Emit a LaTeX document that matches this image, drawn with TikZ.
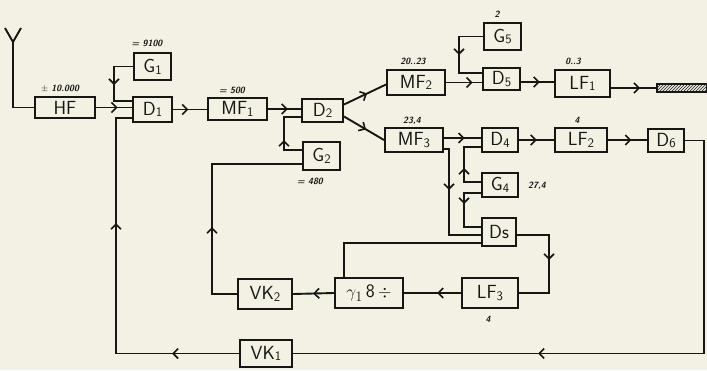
\documentclass[tikz,border=0pt]{standalone}
\usetikzlibrary{arrows.meta,decorations.markings,patterns,calc}
\definecolor{paper}{RGB}{242,241,228}
\definecolor{ink}{RGB}{22,22,20}
\newcommand\ix[1]{\raisebox{-1.8pt}{\fontsize{13}{13}\selectfont #1}}
\begin{document}
\begin{tikzpicture}[x=1pt,y=-1pt,
  blk/.style={draw=ink,line width=2pt,inner sep=0pt,font=\sffamily\fontsize{19}{19}\selectfont,text=ink},
  ann/.style={font=\sffamily\itshape\bfseries\fontsize{9}{9}\selectfont,text=ink,inner sep=0pt},
  wire/.style={draw=ink,line width=1.9pt},
  arrat/.style={postaction={decorate,decoration={markings,mark=at position #1 with {\arrow[ink,line width=1.6pt]{Straight Barb[length=5pt,width=10pt]}}}}}]
\fill[paper] (0,0) rectangle (707,370);
\useasboundingbox (0,0) rectangle (707,370);
% boxes
\node[blk,minimum width=60pt,minimum height=21pt] (hf) at (65,107.5) {HF};
\node[blk,minimum width=39pt,minimum height=25pt] (d1) at (152.5,109.5) {D\ix{1}};
\node[blk,minimum width=37pt,minimum height=27pt] (g1) at (152.5,66.5) {G\ix{1}};
\node[blk,minimum width=59pt,minimum height=22pt] (mf1) at (237.5,109) {MF\ix{1}};
\node[blk,minimum width=41pt,minimum height=23pt] (d2) at (322.5,110.5) {D\ix{2}};
\node[blk,minimum width=37pt,minimum height=28pt] (g2) at (321.5,156) {G\ix{2}};
\node[blk,minimum width=58pt,minimum height=25pt] (mf2) at (416,82.5) {MF\ix{2}};
\node[blk,minimum width=58pt,minimum height=24pt] (mf3) at (414,140) {MF\ix{3}};
\node[blk,minimum width=37pt,minimum height=27pt] (g5) at (502.5,36.5) {G\ix{5}};
\node[blk,minimum width=37pt,minimum height=22pt] (d5) at (501.5,79) {D\ix{5}};
\node[blk,minimum width=55pt,minimum height=27pt] (lf1) at (582.5,83.5) {LF\ix{1}};
\node[draw=ink,line width=1.2pt,pattern=north east lines,pattern color=ink,minimum width=50pt,minimum height=8pt,inner sep=0pt] (bar) at (682,88) {};
\node[blk,minimum width=36pt,minimum height=24pt] (d4) at (500,140) {D\ix{4}};
\node[blk,minimum width=52pt,minimum height=24pt] (lf2) at (581,140) {LF\ix{2}};
\node[blk,minimum width=36pt,minimum height=23pt] (d6) at (666,140.5) {D\ix{6}};
\node[blk,minimum width=36pt,minimum height=24pt] (g4) at (500,185) {G\ix{4}};
\node[blk,minimum width=34pt,minimum height=28pt] (ds) at (499,232) {Ds};
\node[blk,minimum width=56pt,minimum height=30pt] (lf3) at (490,293) {LF\ix{3}};
\node[blk,minimum width=68pt,minimum height=30pt] (yb) at (369,293) {$\gamma_1$\,8\,$\div$};
\node[blk,minimum width=54pt,minimum height=30pt] (vk2) at (265,294) {VK\ix{2}};
\node[blk,minimum width=52pt,minimum height=27pt] (vk1) at (266,353.5) {VK\ix{1}};
% annotations
\node[ann] (a1) at (147,43) {= 9100};
\node[ann] (a2) at (60,89) {$\pm$ 10.000};
\node[ann] (a3) at (232,90) {= 500};
\node[ann] (a4) at (413,61) {20..23};
\node[ann] (a5) at (412,121) {23,4};
\node[ann] (a6) at (497,14) {2};
\node[ann] (a7) at (573,61) {0..3};
\node[ann] (a8) at (310,181) {= 480};
\node[ann] (a9) at (577,120) {4};
\node[ann] (a10) at (537,186) {27,4};
\node[ann] (a11) at (488,319) {4};
% antenna
\coordinate (ant) at (13,42);
\coordinate (antl) at (5,28);
\coordinate (antr) at (21,28);
\draw[wire] (antl) -- (ant) -- (antr);
\draw[wire] (ant) |- (hf.west);
% port coordinates
\coordinate (d5o) at ($(d5.east)+(0,3)$);
\coordinate (lf1i) at (d5o -| lf1.west);
\coordinate (mf3o) at ($(mf3.east)+(0,-2)$);
\coordinate (d4i) at (mf3o -| d4.west);
% connectors
\draw[wire,arrat=0.6] (hf.east) -- (hf.east -| d1.west);
\draw[wire,arrat=37.5pt] (g1.west) -- ++(-19,0) |- ($(d1.west)+(0,-8.5)$);
\draw[wire,arrat=67pt,arrat=253.5pt] (vk1.west) -| ($(d1.west)+(-16,8.5)$) -- ($(d1.west)+(0,8.5)$);
\draw[wire,arrat=398pt] (d6.east) -- ++(19,0) |- (vk1.east);
\draw[wire,arrat=0.45] (d1.east) -- (d1.east -| mf1.west);
\draw[wire,arrat=0.6] (mf1.east) -- (mf1.east -| d2.west);
\draw[wire,arrat=28pt] ($(g2.west)+(0,-6)$) -- ++(-18,0) |- ($(d2.west)+(0,6.5)$);
\draw[wire,arrat=92pt] (vk2.west) -- ++(-25,0) |- ($(g2.west)+(0,8)$);
\draw[wire,arrat=0.55] ($(d2.east)+(0,-6)$) -- ($(mf2.west)+(0,2)$);
\draw[wire,arrat=0.55] ($(d2.east)+(0,6)$) -- (mf3.west);
\draw[wire,arrat=0.74] (mf2.east) -- (mf2.east -| d5.west);
\draw[wire,arrat=42.5pt] (g5.west) -- ++(-24,0) |- ($(d5.west)+(0,-6)$);
\draw[wire,arrat=0.57] (d5o) -- (lf1i);
\draw[wire,arrat=0.64] ($(lf1.east)+(0,4.5)$) -- (bar.west);
\draw[wire,arrat=0.56] (mf3o) -- (d4i);
\draw[wire,arrat=46pt] ($(mf3.east)+(0,9)$) -- ++(5,0) |- ($(ds.west)+(0,3)$);
\draw[wire,arrat=31pt] ($(g4.west)+(0,-3)$) -- ++(-17,0) |- ($(d4.west)+(0,7)$);
\draw[wire,arrat=28pt] ($(g4.west)+(0,8)$) -- ++(-17,0) |- ($(ds.west)+(0,-5)$);
\draw[wire,arrat=0.51] (d4.east) -- (lf2.west);
\draw[wire,arrat=0.6] (lf2.east) -- (lf2.east -| d6.west);
\draw[wire,arrat=57pt] ($(ds.east)+(0,3)$) -- ++(32,0) |- (lf3.east);
\draw[wire,arrat=0.42] (lf3.west) -- (yb.east);
\draw[wire,arrat=0.51] (yb.west) -- (vk2.east);
\draw[wire] ($(yb.north west)+(10,0)$) |- ($(ds.west)+(0,11)$);
\end{tikzpicture}
\end{document}
